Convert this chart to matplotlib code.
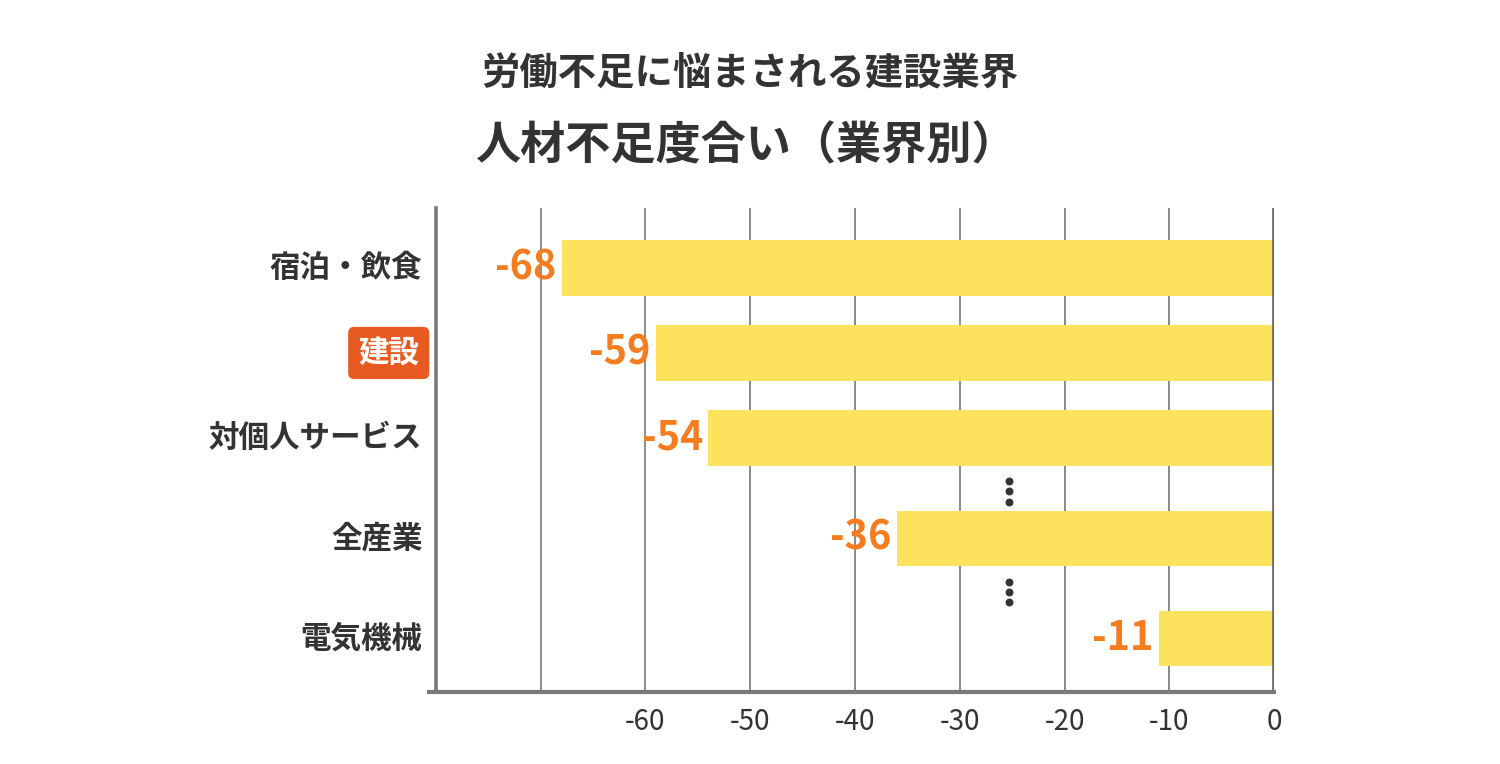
import matplotlib
matplotlib.use("Agg")
import matplotlib.pyplot as plt

plt.rcParams['font.family'] = ['Noto Sans CJK JP', 'DejaVu Sans']

categories = ["宿泊・飲食", "建設", "対個人サービス", "全産業", "電気機械"]
values = [-68, -59, -54, -36, -11]
xticks = [-60, -50, -40, -30, -20, -10, 0]
title1 = "労働不足に悩まされる建設業界"
title2 = "人材不足度合い（業界別）"

# layout (slot positions, with gaps where rows are omitted)
ypos = [0, 1, 2, 3.18, 4.36]

fig = plt.figure(figsize=(15, 7.64), dpi=100)
ax = fig.add_axes([436/1500, 1-692/764, (1274-436)/1500, (692-208)/764])

bar_color = '#FDE35D'
lab_color = '#F57C1F'
ax.barh(ypos, values, height=0.65, color=bar_color, zorder=2)

ax.set_xlim(-80, 0)
ax.set_ylim(4.99, -0.706)

for g in range(-70, 0, 10):
    ax.axvline(g, color='#8a8a8a', lw=1.4, zorder=1)
ax.axvline(0, color='#666666', lw=2.6, zorder=3)

for s in ['top', 'right']:
    ax.spines[s].set_visible(False)
ax.spines['left'].set_color('#7a7a7a')
ax.spines['left'].set_linewidth(2.6)
ax.spines['bottom'].set_visible(False)
ax.plot([-80.9, 0.15], [4.99, 4.99], color='#7a7a7a', lw=3, clip_on=False, zorder=4, solid_capstyle='butt')

ax.set_xticks(xticks)
ax.set_xticklabels([str(t) for t in xticks], fontsize=20, color='#333333')
ax.tick_params(axis='x', length=0, pad=11)
ax.set_yticks([])

for y, v in zip(ypos, values):
    ax.text(v - 0.5, y, str(v), ha='right', va='center', fontsize=28.5,
            fontweight='bold', color=lab_color, zorder=5)

for y, c in zip(ypos, categories):
    if c == "建設":
        ax.text(-81.6, y, c, ha='right', va='center', fontsize=22, fontweight='bold',
                color='white', clip_on=False,
                bbox=dict(boxstyle='round,pad=0.33,rounding_size=0.2', fc='#E85A22', ec='none'))
    else:
        ax.text(-81.3, y, c, ha='right', va='center', fontsize=22, fontweight='bold',
                color='#333333', clip_on=False)

# ellipsis dots for omitted rows
for a, b in [(2, 3), (3, 4)]:
    yc = (ypos[a] + ypos[b]) / 2 + 0.04
    ax.scatter([-25.3]*3, [yc - 0.12, yc, yc + 0.12], s=22, color='#333333', zorder=5)

fig.text(750/1500, 1-74/764, title1, ha='center', va='center', fontsize=27.6,
         fontweight='bold', color='#333333')
fig.text(746/1500, 1-146/764, title2, ha='center', va='center', fontsize=32.5,
         fontweight='bold', color='#333333')

fig.savefig("out.png", dpi=100, facecolor='white')
